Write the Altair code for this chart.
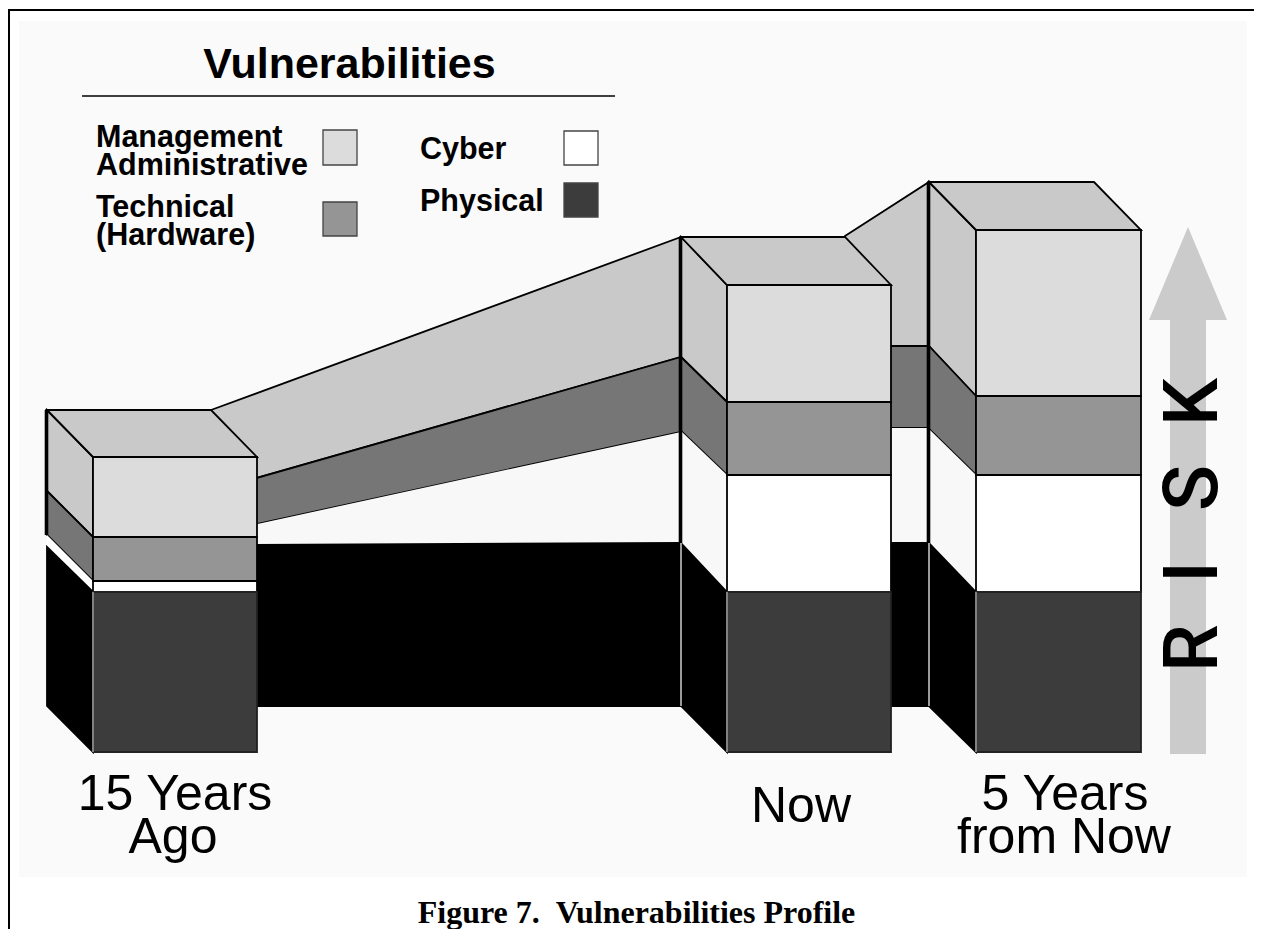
import altair as alt

# Picture-space scale limits
X_DOMAIN = [8, 1254]
Y_DOMAIN = [929, 8]

# Bars: back-left x, front-left x, front-right x, back-right x
back_left = [47, 681, 929]
front_left = [93, 727, 976]
front_right = [257, 891, 1141]
back_right = [211, 845, 1094]

# Level heights, from top to bottom: top, mgmt/tech, tech/cyber, cyber/phys, bottom
front_levels = [
    [457, 537, 581, 592, 752],
    [285, 402, 475, 592, 752],
    [230, 396, 475, 592, 752],
]
back_levels = [
    [410, 491, 535, 547, 706],
    [237, 357, 431, 543, 706],
    [182, 346, 429, 543, 706],
]

# Ribbons joining the bars: each boundary y at its left and right end
ribbon_x = [[211, 681], [845, 929]]
ribbon_left = [
    [410, 491, 534, 545, 706],
    [236, 346, 428, 543, 706],
]
ribbon_right = [
    [237, 357, 432, 543, 706],
    [182, 346, 428, 543, 706],
]

categories = ["Management Administrative", "Technical (Hardware)", "Cyber", "Physical"]
front_fill = ["#dcdcdc", "#959595", "#ffffff", "#3c3c3c"]
side_fill = ["#c9c9c9", "#767676", "#f8f8f8", "#000000"]
top_fill = "#c9c9c9"
cyber_side_box1 = "#ffffff"

# Legend swatches
swatch_x = [323, 323, 564, 564]
swatch_x2 = [357, 357, 598, 598]
swatch_y = [130, 202, 131, 183]
swatch_y2 = [165, 236, 165, 217]

# Arrow
arrow_shaft_x = [1170, 1206]
arrow_shaft_y = [320, 754]
arrow_head_x = [1149, 1188, 1227]
arrow_head_y = [320, 227, 320]
arrow_fill = "#cbcbcb"

title_text = ["Vulnerabilities"]
legend_labels = ["Management", "Administrative", "Technical", "(Hardware)", "Cyber", "Physical"]
legend_label_x = [96, 96, 96, 96, 420, 420]
legend_label_y = [147, 175, 217, 245, 159, 211]

group_labels = ["15 Years", "Ago", "Now", "5 Years", "from Now"]
group_label_x = [175, 173, 801, 1065, 1064]
group_label_y = [810, 853, 822, 810, 853]

risk_letters = ["R", "I", "S", "K"]
risk_y = [648, 572, 488, 402]

caption = "Figure 7.\u00a0\u00a0Vulnerabilities Profile"

X = alt.X("x:Q", scale=alt.Scale(domain=X_DOMAIN), axis=None)
Y = alt.Y("y:Q", scale=alt.Scale(domain=Y_DOMAIN), axis=None)


def quad(x0, x1, top0, bot0, top1, bot1, fill, stroke="#000000", sw=1.8):
    """Shape with two vertical sides."""
    kw = dict(fill=fill, opacity=1, orient="vertical", clip=False)
    if stroke:
        kw.update(stroke=stroke, strokeWidth=sw, strokeJoin="miter")
    rows = [{"x": x0, "y": top0, "y2": bot0}, {"x": x1, "y": top1, "y2": bot1}]
    return alt.Chart(alt.Data(values=rows)).mark_area(**kw).encode(x=X, y=Y, y2="y2:Q")


def hquad(y0, y1, x00, x01, x10, x11, fill, stroke="#000000", sw=1.8):
    """Shape with two horizontal sides."""
    rows = [{"y": y0, "x": x00, "x2": x01}, {"y": y1, "x": x10, "x2": x11}]
    return alt.Chart(alt.Data(values=rows)).mark_area(
        fill=fill, opacity=1, orient="horizontal", stroke=stroke, strokeWidth=sw, strokeJoin="miter"
    ).encode(y=Y, x=X, x2="x2:Q")


def rule_v(x, y0, y1, color="#000000", w=3):
    return alt.Chart(alt.Data(values=[{"x": x, "y": y0, "y2": y1}])).mark_rule(
        color=color, strokeWidth=w
    ).encode(x=X, y=Y, y2="y2:Q")


def rule_h(x0, x1, y, color="#000000", w=2):
    return alt.Chart(alt.Data(values=[{"x": x0, "x2": x1, "y": y}])).mark_rule(
        color=color, strokeWidth=w
    ).encode(x=X, x2="x2:Q", y=Y)


def label(rows, **kw):
    return alt.Chart(alt.Data(values=rows)).mark_text(baseline="alphabetic", **kw).encode(
        x=X, y=Y, text="t:N"
    )


layers = []

# Page furniture
layers.append(
    alt.Chart(alt.Data(values=[{"x": 19, "x2": 1247, "y": 21, "y2": 877}]))
    .mark_rect(fill="#fafafa")
    .encode(x=X, x2="x2:Q", y=Y, y2="y2:Q")
)
layers.append(rule_h(8, 1254, 10, w=2))
layers.append(rule_v(9, 10, 929, w=2))

# Ribbons
for (x0, x1), lft, rgt in zip(ribbon_x, ribbon_left, ribbon_right):
    for i in range(4):
        layers.append(
            quad(x0, x1, lft[i], lft[i + 1], rgt[i], rgt[i + 1], side_fill[i],
                 stroke=None if i == 2 else "#000000")
        )

# Bars
for b in range(3):
    fl, fr, bl, br = front_left[b], front_right[b], back_left[b], back_right[b]
    fy, by = front_levels[b], back_levels[b]
    for i in range(4):
        fill = cyber_side_box1 if (b == 0 and i == 2) else side_fill[i]
        layers.append(quad(bl, fl, by[i], by[i + 1], fy[i], fy[i + 1], fill,
                           stroke=None if i == 2 else "#000000"))
    for i in range(4):
        layers.append(quad(fl, fr, fy[i], fy[i + 1], fy[i], fy[i + 1], front_fill[i],
                           stroke="#222222" if i == 3 else "#000000"))
    layers.append(hquad(by[0], fy[0], bl, br, fl, fr, top_fill))
    # heavy back edge, pale edges on the physical block
    layers.append(rule_v(bl - 0.5, by[0], by[3] if b else by[2], w=3.6))
    if b:
        layers.append(rule_v(bl, by[3], by[4], color="#9a9a9a", w=2))
    layers.append(rule_v(fl, fy[3], fy[4], color="#9a9a9a", w=1.6))

# Arrow
layers.append(quad(arrow_shaft_x[0], arrow_shaft_x[1], arrow_shaft_y[0], arrow_shaft_y[1],
                   arrow_shaft_y[0], arrow_shaft_y[1], arrow_fill, stroke=None))
layers.append(
    alt.Chart(alt.Data(values=[{"x": a, "y": b, "y2": arrow_head_y[0]} for a, b in zip(arrow_head_x, arrow_head_y)]))
    .mark_area(fill=arrow_fill, opacity=1, orient="vertical")
    .encode(x=X, y=Y, y2="y2:Q")
)

# RISK
layers.append(
    label([{"x": 1217, "y": y, "t": t} for t, y in zip(risk_letters, risk_y)],
          font="Roboto", fontSize=76, fontWeight=500, angle=270, align="center", color="#000000")
)

# Legend
layers.append(label([{"x": 349.5, "y": 77.5, "t": title_text[0]}], font="Liberation Sans", fontWeight="bold",
                    fontSize=43, align="center", color="#000000"))
layers.append(rule_h(82, 615, 96, w=1.5))
for i in range(4):
    layers.append(
        alt.Chart(alt.Data(values=[{"x": swatch_x[i], "x2": swatch_x2[i], "y": swatch_y[i], "y2": swatch_y2[i]}]))
        .mark_rect(fill=front_fill[i], stroke="#444444", strokeWidth=1.3)
        .encode(x=X, x2="x2:Q", y=Y, y2="y2:Q")
    )
layers.append(
    label([{"x": a, "y": b, "t": t} for t, a, b in zip(legend_labels, legend_label_x, legend_label_y)],
          font="Liberation Sans", fontWeight="bold", fontSize=30.5, align="left", color="#000000")
)

# Group labels and caption
layers.append(
    label([{"x": a, "y": b, "t": t} for t, a, b in zip(group_labels, group_label_x, group_label_y)],
          font="Liberation Sans", fontSize=50, align="center", color="#000000")
)
layers.append(label([{"x": 636.5, "y": 923, "t": caption}], font="Liberation Serif", fontWeight="bold",
                    fontSize=32, align="center", color="#000000"))

chart = (
    alt.layer(*layers)
    .properties(width=1246, height=921, padding=0, background="#ffffff",
                autosize=alt.AutoSizeParams(type="none"))
    .configure_view(stroke=None)
)
chart.save("out.html", embed_options={"renderer": "svg", "actions": False})
